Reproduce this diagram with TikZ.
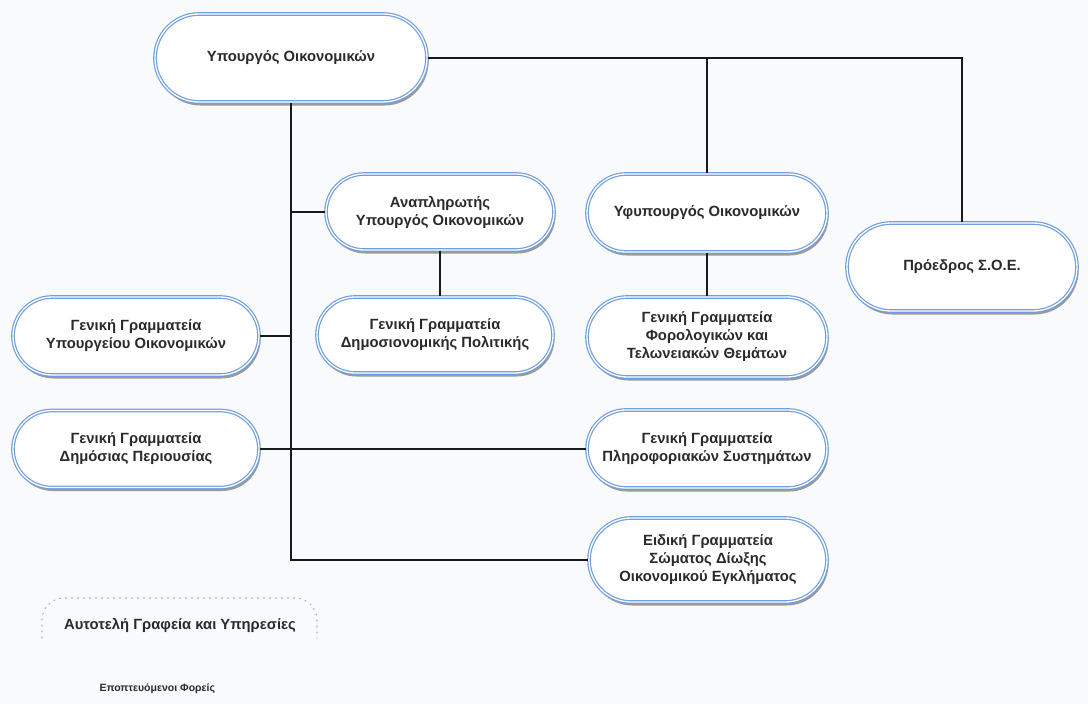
\documentclass[tikz,border=0pt]{standalone}
\usepackage{fontspec}
\setmainfont{Liberation Sans}
\usetikzlibrary{shapes.misc,shadows}
\definecolor{bg}{RGB}{248,250,251}
\definecolor{edgeblue}{RGB}{112,158,222}
\definecolor{txt}{RGB}{42,42,42}
\tikzset{
  orgbox/.style={rounded rectangle, draw=edgeblue, line width=1.2pt, double=white,
    double distance=1.3pt, fill=white, text=txt, align=center,
    font=\bfseries\fontsize{14.8}{18}\selectfont,
    drop shadow={shadow xshift=1.5pt, shadow yshift=-3.5pt, opacity=0.55, fill=black!70},
    inner sep=0pt},
  link/.style={draw=black!90, line width=1.7pt}
}
\begin{document}
\begin{tikzpicture}[x=1pt,y=-1pt]
\fill[bg] (0,0) rectangle (1088,704);
\useasboundingbox (0,0) rectangle (1088,704);

\node[orgbox, minimum width=272pt, minimum height=88pt] (min) at (291,58) {Υπουργός Οικονομικών};
\node[orgbox, minimum width=228pt, minimum height=76pt] (anapl) at (440,212) {Αναπληρωτής\\Υπουργός Οικονομικών};
\node[orgbox, minimum width=240pt, minimum height=78pt] (yfyp) at (707,213) {Υφυπουργός Οικονομικών};
\node[orgbox, minimum width=230pt, minimum height=88pt] (proedr) at (962,267) {Πρόεδρος Σ.Ο.Ε.};
\node[orgbox, minimum width=246pt, minimum height=78pt] (ggypo) at (136,336) {Γενική Γραμματεία\\Υπουργείου Οικονομικών};
\node[orgbox, minimum width=236pt, minimum height=76pt] (dhmos) at (435,335) {Γενική Γραμματεία\\Δημοσιονομικής Πολιτικής};
\node[orgbox, minimum width=240pt, minimum height=80pt] (foro) at (707,337) {Γενική Γραμματεία\\Φορολογικών και\\Τελωνειακών Θεμάτων};
\node[orgbox, minimum width=246pt, minimum height=77pt] (dper) at (136,449) {Γενική Γραμματεία\\Δημόσιας Περιουσίας};
\node[orgbox, minimum width=240pt, minimum height=78pt] (plir) at (707,449) {Γενική Γραμματεία\\Πληροφοριακών Συστημάτων};
\node[orgbox, minimum width=238pt, minimum height=84pt] (eid) at (708,560) {Ειδική Γραμματεία\\Σώματος Δίωξης\\Οικονομικού Εγκλήματος};

\draw[link] (min.east) -- (proedr.north |- min.east) -- (proedr.north);
\draw[link] (yfyp.north |- min.east) -- (yfyp.north);
\draw[link] (min.south) -- (min.south |- eid.west) -- (eid.west);
\draw[link] (anapl.west) -- (anapl.west -| min.south);
\draw[link] (anapl.south) -- (anapl.south |- dhmos.north);
\draw[link] (yfyp.south) -- (yfyp.south |- foro.north);
\draw[link] (ggypo.east) -- (ggypo.east -| min.south);
\draw[link] (dper.east) -- (plir.west);

% autonomous offices (dotted outline)
\node[text=txt, font=\bfseries\fontsize{14.8}{18}\selectfont] (auto) at (180,625) {Αυτοτελή Γραφεία και Υπηρεσίες};
\draw[edgeblue!80, line width=1.1pt, dash pattern=on 1pt off 5pt, line cap=round, rounded corners=22pt]
  (42,638) -- (42,598) -- (317,598) -- (317,638);
\node[text=txt, font=\bfseries\fontsize{10.5}{13}\selectfont, anchor=west] (epopt) at (96,689) {Εποπτευόμενοι Φορείς};
\end{tikzpicture}
\end{document}
